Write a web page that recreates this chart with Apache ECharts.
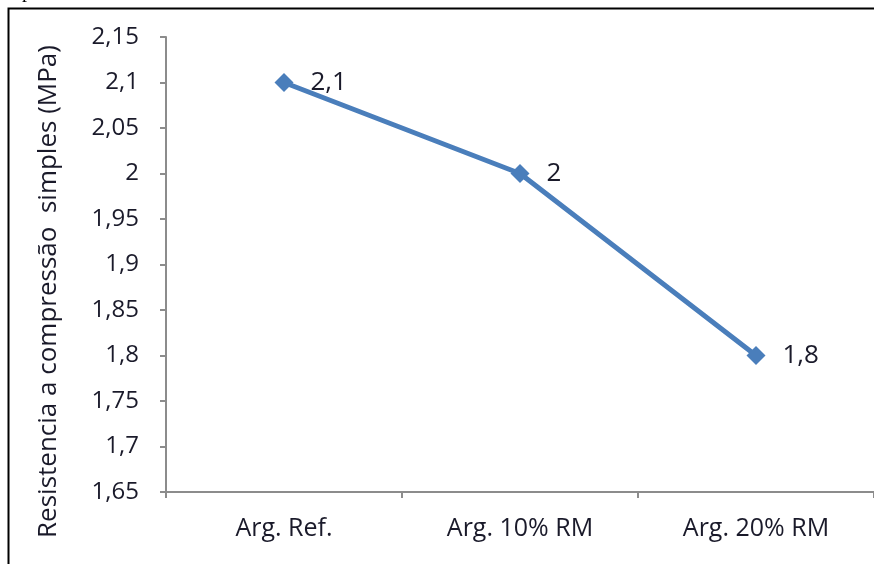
<!DOCTYPE html>
<html>
<head>
    <meta charset="utf-8">
    <title>Resistencia a compressão simples</title>
    <script src="https://cdn.jsdelivr.net/npm/echarts@6/dist/echarts.min.js"></script>
    <style>
        html, body { margin: 0; padding: 0; background: #fff; }
        #chart1 { width: 874px; height: 564px; }
    </style>
</head>
<body>
<div id="chart1"></div>
<script>
    // dados
    var categorias = ['Arg. Ref.', 'Arg. 10% RM', 'Arg. 20% RM'];
    var resistencia = [2.1, 2.0, 1.8];
    var eixoY = { min: 1.65, max: 2.15, intervalo: 0.05 };
    var tituloY = 'Resistencia a compressão  simples (MPa)';

    function virgula(v) {
        var s = (Math.round(v * 100) / 100).toString();
        return s.replace('.', ',');
    }

    var fonte = '"Open Sans", "Noto Sans", sans-serif';
    var myChart1 = echarts.init(document.getElementById('chart1'));

    myChart1.setOption({
        animation: false,
        grid: { left: 166, top: 37, right: -6, bottom: 72 },
        xAxis: {
            type: 'category',
            data: categorias,
            boundaryGap: true,
            axisLine: { lineStyle: { color: '#8c8c8c', width: 2 } },
            axisTick: { show: true, length: 6, lineStyle: { color: '#8c8c8c', width: 2 } },
            axisLabel: { margin: 24, color: '#1a1a2a', fontSize: 25, fontFamily: fonte },
            splitLine: { show: false }
        },
        yAxis: {
            type: 'value',
            min: eixoY.min,
            max: eixoY.max,
            interval: eixoY.intervalo,
            name: tituloY,
            nameLocation: 'middle',
            nameGap: 104,
            nameRotate: 90,
            nameTextStyle: { color: '#1a1a2a', fontSize: 26, fontFamily: fonte, padding: [0, 54, 0, 0] },
            axisLine: { show: true, lineStyle: { color: '#8c8c8c', width: 2 } },
            axisTick: { show: true, length: 6, lineStyle: { color: '#8c8c8c', width: 2 } },
            axisLabel: {
                margin: 27,
                color: '#1a1a2a',
                fontSize: 24,
                fontFamily: fonte,
                formatter: virgula
            },
            splitLine: { show: false }
        },
        series: [{
            type: 'line',
            data: resistencia,
            symbol: 'diamond',
            symbolSize: 19,
            lineStyle: { color: '#4a7ebb', width: 5 },
            itemStyle: { color: '#4a7ebb' },
            label: {
                show: true,
                position: 'right',
                distance: 17,
                color: '#1a1a2a',
                fontSize: 26,
                fontFamily: fonte,
                formatter: function (p) { return virgula(p.value); }
            }
        }],
        graphic: [{
            type: 'rect',
            shape: { x: 8.5, y: 8.5, width: 900, height: 600 },
            style: { fill: 'none', stroke: '#000', lineWidth: 2 },
            silent: true
        }, {
            type: 'text',
            left: 22,
            top: -18,
            style: { text: 'p.', fontSize: 20, fontFamily: '"Liberation Serif", serif', fill: '#000' }
        }]
    });
</script>
</body>
</html>
